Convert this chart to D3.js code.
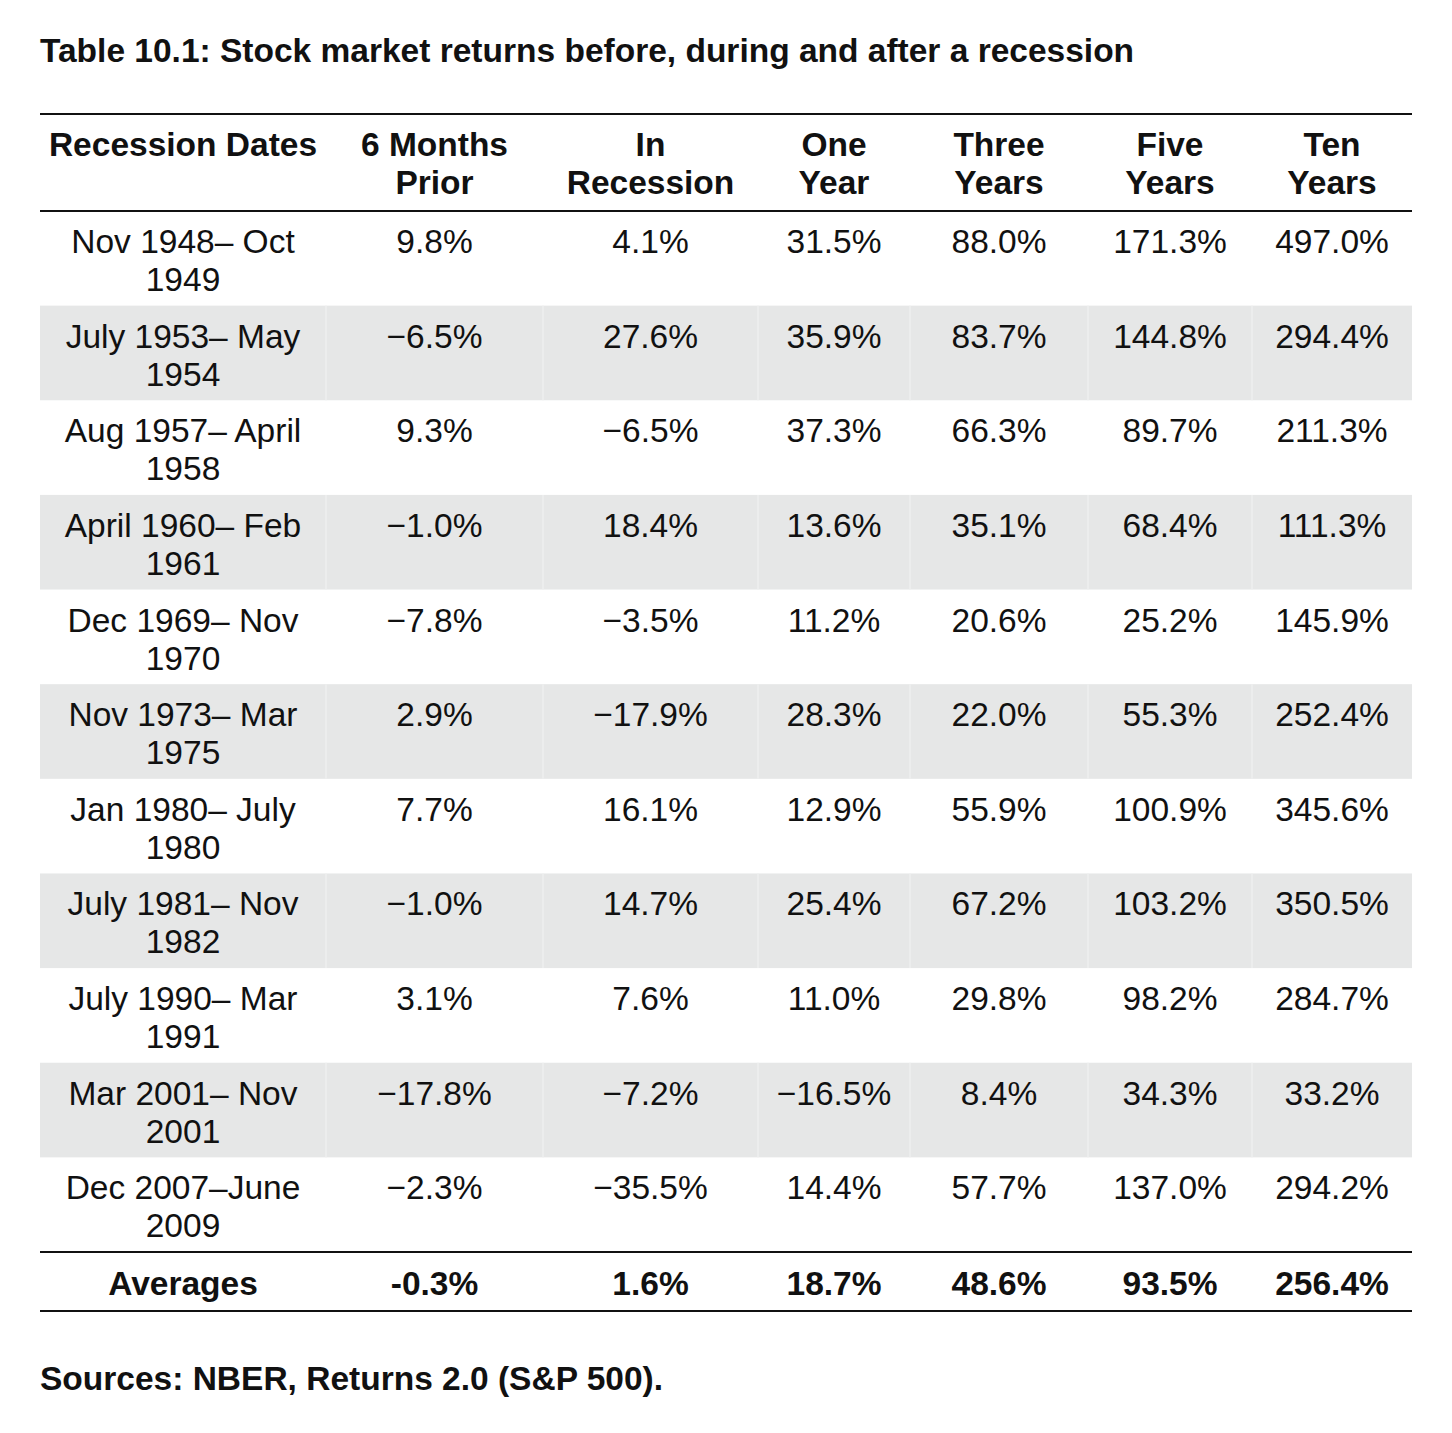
<!DOCTYPE html>
<html>
<head>
<meta charset="utf-8">
<script src="https://cdn.jsdelivr.net/npm/d3@7"></script>
<style>
  body { margin: 0; background: #fff; }
  text { font-family: 'Liberation Sans', Arial, sans-serif; fill: #111; }
</style>
</head>
<body>
<svg></svg>
<script>
// Data
var title = 'Table 10.1: Stock market returns before, during and after a recession';
var source = 'Sources: NBER, Returns 2.0 (S&P 500).';
var headers = [['Recession Dates'], ['6 Months', 'Prior'], ['In', 'Recession'], ['One', 'Year'],
  ['Three', 'Years'], ['Five', 'Years'], ['Ten', 'Years']];
var dates = [
  ['Nov 1948\u2013 Oct', '1949'], ['July 1953\u2013 May', '1954'], ['Aug 1957\u2013 April', '1958'],
  ['April 1960\u2013 Feb', '1961'], ['Dec 1969\u2013 Nov', '1970'], ['Nov 1973\u2013 Mar', '1975'],
  ['Jan 1980\u2013 July', '1980'], ['July 1981\u2013 Nov', '1982'], ['July 1990\u2013 Mar', '1991'],
  ['Mar 2001\u2013 Nov', '2001'], ['Dec 2007\u2013June', '2009']
];
var sixMonthsPrior = ['9.8%', '\u22126.5%', '9.3%', '\u22121.0%', '\u22127.8%', '2.9%', '7.7%', '\u22121.0%', '3.1%', '\u221217.8%', '\u22122.3%'];
var inRecession = ['4.1%', '27.6%', '\u22126.5%', '18.4%', '\u22123.5%', '\u221217.9%', '16.1%', '14.7%', '7.6%', '\u22127.2%', '\u221235.5%'];
var oneYear = ['31.5%', '35.9%', '37.3%', '13.6%', '11.2%', '28.3%', '12.9%', '25.4%', '11.0%', '\u221216.5%', '14.4%'];
var threeYears = ['88.0%', '83.7%', '66.3%', '35.1%', '20.6%', '22.0%', '55.9%', '67.2%', '29.8%', '8.4%', '57.7%'];
var fiveYears = ['171.3%', '144.8%', '89.7%', '68.4%', '25.2%', '55.3%', '100.9%', '103.2%', '98.2%', '34.3%', '137.0%'];
var tenYears = ['497.0%', '294.4%', '211.3%', '111.3%', '145.9%', '252.4%', '345.6%', '350.5%', '284.7%', '33.2%', '294.2%'];
var averages = ['Averages', '-0.3%', '1.6%', '18.7%', '48.6%', '93.5%', '256.4%'];

// Layout
var width = 1452, height = 1433;
var colEdges = [40, 326, 543, 758, 910, 1088, 1252, 1412];
var headTop = 114, bodyTop = 211, bodyBottom = 1252, avgBottom = 1311;
var fontSize = 33.5;

var svg = d3.select('svg').attr('width', width).attr('height', height);

var columns = [dates, sixMonthsPrior, inRecession, oneYear, threeYears, fiveYears, tenYears]
  .map(function (c) { return c.map(function (v) { return Array.isArray(v) ? v : [v]; }); });

var y = d3.scaleBand()
  .domain(d3.range(dates.length))
  .range([bodyTop, bodyBottom]);

// Title
svg.append('text').attr('x', 40).attr('y', 62)
  .attr('font-size', fontSize).attr('font-weight', 'bold').text(title);

// Grey stripes with faint column gaps
var cells = svg.append('g');
d3.range(dates.length).filter(function (i) { return i % 2 === 1; }).forEach(function (i) {
  cells.append('rect')
    .attr('x', 40).attr('width', 1372)
    .attr('y', y(i)).attr('height', y.bandwidth())
    .attr('fill', '#e6e7e7');
  colEdges.slice(1, -1).forEach(function (ex) {
    cells.append('line').attr('x1', ex).attr('x2', ex)
      .attr('y1', y(i)).attr('y2', y(i) + y.bandwidth())
      .attr('stroke', '#eeefef').attr('stroke-width', 1.5);
  });
});

function cx(c) { return (colEdges[c] + colEdges[c + 1]) / 2; }

// Header
headers.forEach(function (lines, c) {
  var t = svg.append('text').attr('text-anchor', 'middle').attr('font-size', fontSize).attr('font-weight', 'bold');
  lines.forEach(function (l, k) {
    t.append('tspan').attr('x', cx(c)).attr('y', 156 + k * 38).text(l);
  });
});

// Body
columns.forEach(function (col, c) {
  svg.append('g').selectAll('text').data(col).join('text')
    .attr('text-anchor', 'middle').attr('font-size', fontSize)
    .each(function (lines, i) {
      var t = d3.select(this);
      lines.forEach(function (l, k) {
        t.append('tspan').attr('x', cx(c)).attr('y', y(i) + 42 + k * 38).text(l);
      });
    });
});

// Averages
svg.append('g').selectAll('text').data(averages).join('text')
  .attr('text-anchor', 'middle').attr('font-size', fontSize).attr('font-weight', 'bold')
  .attr('x', function (d, c) { return cx(c); })
  .attr('y', bodyBottom + 43)
  .text(function (d) { return d; });

// Rules
[headTop, bodyTop, bodyBottom, avgBottom].forEach(function (ry) {
  svg.append('line').attr('x1', 40).attr('x2', 1412).attr('y1', ry).attr('y2', ry)
    .attr('stroke', '#111').attr('stroke-width', 2.2);
});

// Source
svg.append('text').attr('x', 40).attr('y', 1390)
  .attr('font-size', fontSize).attr('font-weight', 'bold').text(source);
</script>
</body>
</html>
